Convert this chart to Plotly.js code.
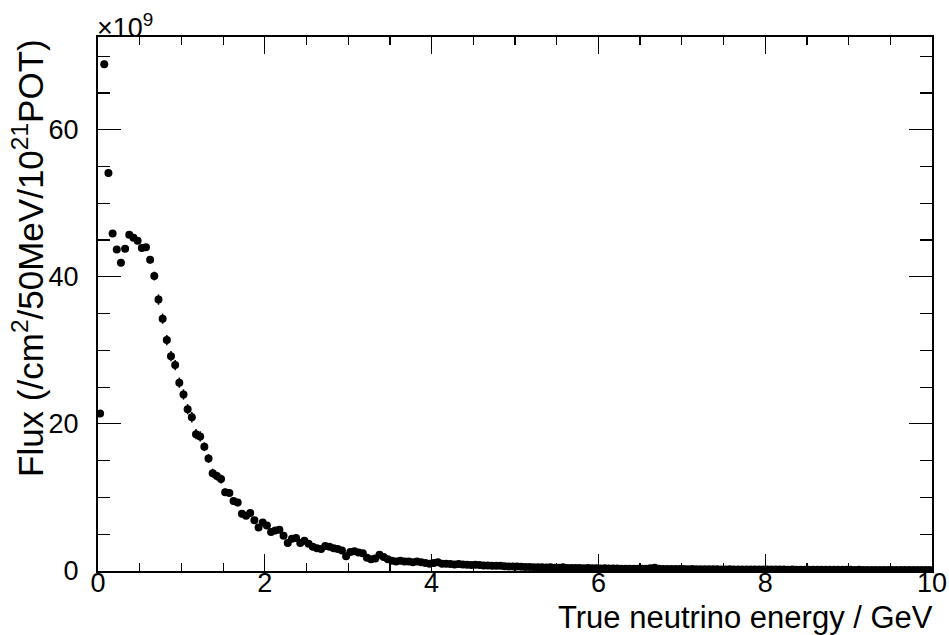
<!DOCTYPE html>
<html>
<head>
<meta charset="utf-8">
<script src="https://cdn.plot.ly/plotly-3.0.1.min.js"></script>
<style>html,body{margin:0;padding:0;background:#fff;}#chart{width:949px;height:635px;}</style>
</head>
<body>
<div id="chart"></div>
<script>
// Bin width 50 MeV, 200 bins from 0 to 10 GeV
var binWidthGeV = 0.05;
// Flux values (x10^9 /cm^2/50MeV/10^21 POT)
var fluxHead = [
  21.4, 68.9, 54.1, 45.9, 43.7, 41.9, 43.8, 45.7, 45.3, 44.9,
  43.9, 44.0, 42.3, 40.1, 36.9, 34.3, 31.4, 29.2, 28.0, 25.6,
  24.0, 22.0, 20.9, 18.6, 18.3, 16.9, 15.3, 13.3, 12.9, 12.5,
  10.7, 10.6, 9.5, 9.3, 7.8, 7.5, 7.9, 6.9, 5.9, 6.6,
  6.2, 5.3, 5.5, 5.6, 4.8, 3.8, 4.4, 4.5, 3.8, 4.1,
  3.7, 3.3, 3.1, 3.0, 3.4, 3.3, 3.1, 3.0, 2.8, 2.0,
  2.6, 2.7, 2.5, 2.4, 1.8, 1.6, 1.7, 2.2, 1.9, 1.6,
  1.4, 1.3
];
var fluxTail = [
  1.4, 1.3, 1.3, 1.2, 1.3, 1.2, 1.1, 1.0,
  1.1, 1.2, 1.0, 1.0, 0.95, 0.9, 0.95, 0.9, 0.85, 0.8,
  0.85, 0.8, 0.75, 0.75, 0.7, 0.7, 0.72, 0.65, 0.62, 0.6,
  0.6, 0.58, 0.55, 0.55, 0.52, 0.5, 0.5, 0.48, 0.5, 0.45,
  0.45, 0.5, 0.42, 0.42, 0.4, 0.4, 0.38, 0.4, 0.36, 0.36,
  0.35, 0.36, 0.34, 0.33, 0.34, 0.32, 0.3, 0.32, 0.3, 0.3,
  0.3, 0.32, 0.38, 0.45, 0.32, 0.28, 0.28, 0.27, 0.28, 0.26,
  0.26, 0.25, 0.26, 0.25, 0.24, 0.24, 0.25, 0.23, 0.23, 0.22,
  0.22, 0.23, 0.22, 0.21, 0.22, 0.21, 0.2, 0.21, 0.2, 0.2,
  0.2, 0.19, 0.2, 0.19, 0.19, 0.18, 0.19, 0.18, 0.18, 0.18,
  0.17, 0.18, 0.17, 0.17, 0.17, 0.16, 0.17, 0.16, 0.16, 0.16,
  0.16, 0.15, 0.16, 0.15, 0.15, 0.15, 0.14, 0.15, 0.14, 0.14,
  0.14, 0.14, 0.13, 0.14, 0.13, 0.13, 0.13, 0.12, 0.13, 0.12
];
// Statistical errors for the first bins (smaller than the marker elsewhere)
var fluxErr = [
  0.4, 0.5, 0.5, 0.4, 0.4, 0.4, 0.4, 0.4, 0.4, 0.4,
  0.4, 0.4, 0.5, 0.6, 0.7, 0.7, 0.7, 0.7, 0.7, 0.7,
  0.7, 0.7, 0.7, 0.7, 0.7, 0.6, 0.6, 0.6, 0.6, 0.6,
  0.5, 0.5, 0.5, 0.5, 0.5, 0.4, 0.4, 0.4, 0.4, 0.4
];
var xRange = [0, 10], yRange = [0, 72.6];
var xTickStep = 2, xMinorStep = 0.5;
var yTickStep = 20, yMinorStep = 5;

var flux = fluxHead.concat(fluxTail);
var energy = [];
for (var i = 0; i < flux.length; i++) energy.push((i + 0.5) * binWidthGeV);

var font = "Liberation Sans, Arial, Helvetica, sans-serif";

var trace = {
  x: energy, y: flux, type: 'scatter', mode: 'markers',
  marker: {color: '#000', size: 8, symbol: 'circle'},
  error_y: {type: 'data', array: fluxErr, visible: true, color: '#000', thickness: 1.5, width: 0},
  hoverinfo: 'x+y'
};
// invisible helper traces so that the overlay tick axes are drawn
function helper(xa, ya) {
  return {x: xRange, y: yRange, xaxis: xa, yaxis: ya, type: 'scatter', mode: 'none', hoverinfo: 'skip'};
}
function tickAxis(overlay, side, step, len) {
  return {
    overlaying: overlay, side: side, range: overlay === 'x' ? xRange : yRange,
    tickmode: 'linear', tick0: 0, dtick: step,
    ticks: 'inside', ticklen: len, tickwidth: 1.2, tickcolor: '#000', showticklabels: false,
    showline: false, mirror: 'allticks', showgrid: false, zeroline: false
  };
}

var layout = {
  width: 949, height: 635,
  margin: {l: 98, r: 17, t: 37, b: 64, pad: 0},
  paper_bgcolor: '#fff', plot_bgcolor: '#fff',
  showlegend: false,
  font: {family: font, color: '#000', size: 28},
  xaxis: {
    range: xRange, tickmode: 'linear', tick0: 0, dtick: xTickStep, ticks: '',
    showline: true, linewidth: 2, linecolor: '#000', mirror: true,
    showgrid: false, zeroline: false,
    tickfont: {family: font, size: 27, color: '#000'},
    ticklabelstandoff: -13
  },
  xaxis2: tickAxis('x', 'bottom', xMinorStep, 8),
  xaxis3: tickAxis('x', 'bottom', xTickStep, 17),
  yaxis: {
    range: yRange, tickmode: 'linear', tick0: 0, dtick: yTickStep, ticks: '',
    showline: true, linewidth: 2, linecolor: '#000', mirror: true,
    showgrid: false, zeroline: false,
    tickfont: {family: font, size: 27, color: '#000'},
    ticklabelstandoff: 12
  },
  yaxis2: tickAxis('y', 'left', yMinorStep, 12),
  yaxis3: tickAxis('y', 'left', yTickStep, 23),
  annotations: [
    {text: 'True neutrino energy / GeV', xref: 'paper', yref: 'paper', x: 1, y: 0,
     xanchor: 'right', yanchor: 'top', yshift: -27, xshift: 3, showarrow: false,
     font: {family: font, size: 31, color: '#000'}},
    {text: 'Flux (/cm<sup>2</sup>/50MeV/10<sup>21</sup>POT)', xref: 'paper', yref: 'paper',
     x: 0, y: 1, xshift: -70, xanchor: 'center', yanchor: 'top', textangle: -90, showarrow: false,
     font: {family: font, size: 35, color: '#000'}},
    {text: '×10<sup>9</sup>', xref: 'paper', yref: 'paper', x: 0, y: 1, xshift: -3,
     xanchor: 'left', yanchor: 'bottom', yshift: -8, showarrow: false,
     font: {family: font, size: 27, color: '#000'}}
  ]
};

Plotly.newPlot('chart', [helper('x2', 'y'), helper('x3', 'y'), helper('x', 'y2'), helper('x', 'y3'), trace],
  layout, {displayModeBar: false, staticPlot: true});
</script>
</body>
</html>
